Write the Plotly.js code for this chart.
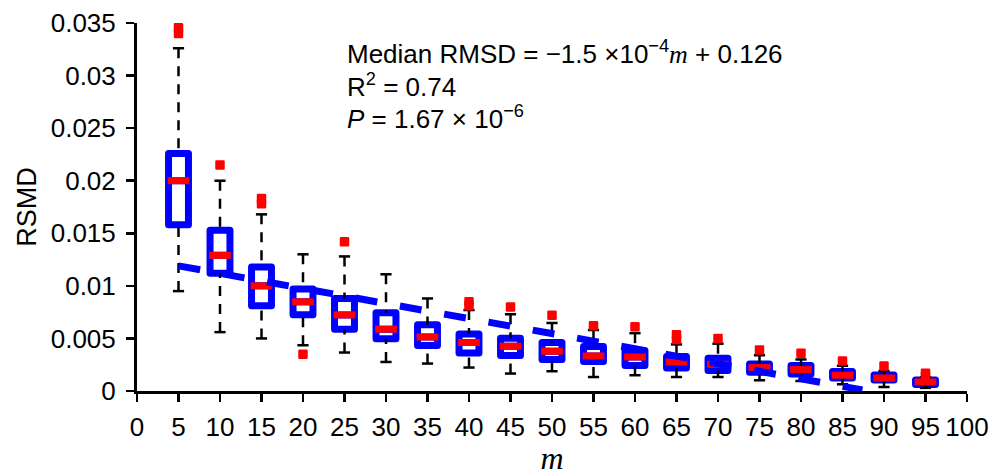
<!DOCTYPE html>
<html>
<head>
<meta charset="utf-8">
<script src="https://cdn.plot.ly/plotly-3.0.1.min.js"></script>
<style>
  html, body { margin: 0; padding: 0; background: #fff; }
  #chart { width: 992px; height: 476px; }
  .boxlayer path { stroke-linejoin: round; }
  .scatterlayer .points path { stroke-linejoin: round; }
</style>
</head>
<body>
<div id="chart"></div>
<script>
// ---- data ----
var m        = [5, 10, 15, 20, 25, 30, 35, 40, 45, 50, 55, 60, 65, 70, 75, 80, 85, 90, 95];
var q1       = [0.0158, 0.0112, 0.0081, 0.00726, 0.00588, 0.00497, 0.00432, 0.00362, 0.00337, 0.0030, 0.0028, 0.00242, 0.00219, 0.00194, 0.00178, 0.00162, 0.00124, 0.00105, 0.00061];
var medians  = [0.0200, 0.0129, 0.0100, 0.00848, 0.00724, 0.00588, 0.00514, 0.00461, 0.00426, 0.00378, 0.00333, 0.00324, 0.00276, 0.00254, 0.00223, 0.00204, 0.0015, 0.00124, 0.00086];
var q3       = [0.0226, 0.0153, 0.0118, 0.0097, 0.0088, 0.00745, 0.00629, 0.00543, 0.00502, 0.00461, 0.00423, 0.00385, 0.00328, 0.00311, 0.00257, 0.00242, 0.00185, 0.00152, 0.00105];
var lowerWhisker = [0.0095, 0.0056, 0.0050, 0.00435, 0.00366, 0.00276, 0.00261, 0.00223, 0.00166, 0.00188, 0.00133, 0.0015, 0.00133, 0.00133, 0.00102, 0.00095, 0.00064, 0.00038, 0.0003];
var upperWhisker = [0.0326, 0.0200, 0.0168, 0.0130, 0.0128, 0.0111, 0.0088, 0.0077, 0.0073, 0.00647, 0.0058, 0.0055, 0.00443, 0.0045, 0.0034, 0.0030, 0.0024, 0.0019, 0.0013];
var outlierM    = [5, 5, 10, 15, 15, 20, 25, 40, 40, 45, 50, 55, 60, 65, 65, 70, 75, 80, 85, 90, 95, 95];
var outlierRMSD = [0.03455, 0.0340, 0.0215, 0.0183, 0.0178, 0.0035, 0.0142, 0.0085, 0.0081, 0.0080, 0.0072, 0.0062, 0.0061, 0.00535, 0.0049, 0.0050, 0.0039, 0.0036, 0.00285, 0.00237, 0.0017, 0.00145];
var fitM    = [5, 87.4];
var fitRMSD = [0.0119, 0.0001];
var xTickVals = [0, 5, 10, 15, 20, 25, 30, 35, 40, 45, 50, 55, 60, 65, 70, 75, 80, 85, 90, 95, 100];
var yTickVals = [0, 0.005, 0.01, 0.015, 0.02, 0.025, 0.03, 0.035];
var yTickText = ['0', '0.005', '0.01', '0.015', '0.02', '0.025', '0.03', '0.035'];
var statLines = [
  'Median RMSD = \u22121.5 \u00d710<sup>\u22124</sup><span style="font-family:\'Liberation Serif\'"><i>m</i></span> + 0.126',
  'R<sup>2</sup> = 0.74',
  '<i>P</i> = 1.67 \u00d7 10<sup>\u22126</sup>'
];

// ---- derived traces ----
var wx = [], wy = [];
for (var i = 0; i < m.length; i++) {
  wx.push(m[i], m[i], null, m[i], m[i], null);
  wy.push(upperWhisker[i], q3[i], null, lowerWhisker[i], q1[i], null);
}

var FONT = '"Liberation Sans", Arial, sans-serif';

var traces = [
  {
    type: 'box', x: m, q1: q1, median: medians, q3: q3,
    lowerfence: q1, upperfence: q3,
    width: 2.4, boxpoints: false,
    line: { color: '#0000ff', width: 7 },
    fillcolor: '#ffffff', whiskerwidth: 0,
    hoverinfo: 'skip', showlegend: false
  },
  {
    type: 'scatter', mode: 'lines', x: wx, y: wy,
    line: { color: '#000000', width: 2.5, dash: '10px,8px' },
    hoverinfo: 'skip', showlegend: false, connectgaps: false
  },
  {
    type: 'scatter', mode: 'markers',
    x: m.concat(m), y: upperWhisker.concat(lowerWhisker),
    marker: { symbol: 'line-ew-open', size: 8, color: '#000000', line: { color: '#000000', width: 2.5 } },
    hoverinfo: 'skip', showlegend: false
  },
  {
    type: 'scatter', mode: 'markers', x: m, y: medians,
    marker: { symbol: 'line-ew-open', size: 15.5, color: '#ff0000', line: { color: '#ff0000', width: 7 } },
    hoverinfo: 'skip', showlegend: false
  },
  {
    type: 'scatter', mode: 'markers', x: outlierM, y: outlierRMSD,
    marker: { symbol: 'square', size: 7, color: '#ff0000', line: { color: '#ff0000', width: 2.5 } },
    hoverinfo: 'skip', showlegend: false
  },
  {
    type: 'scatter', mode: 'lines', x: fitM, y: fitRMSD,
    line: { color: '#0000ff', width: 7, dash: '22px,23px' },
    hoverinfo: 'skip', showlegend: false
  }
];

var annY = [0.921, 0.830, 0.742];
var annotations = statLines.map(function (t, k) {
  return {
    text: t, xref: 'paper', yref: 'paper', x: 0.2506, y: annY[k],
    xanchor: 'left', yanchor: 'middle', showarrow: false, align: 'left',
    font: { family: FONT, size: 26, color: '#000' }
  };
});

var layout = {
  width: 992, height: 476,
  margin: { l: 137, r: 25, t: 23, b: 85 },
  paper_bgcolor: '#ffffff', plot_bgcolor: '#ffffff',
  showlegend: false,
  font: { family: FONT, size: 26, color: '#000' },
  xaxis: {
    range: [0, 100], tickmode: 'array', tickvals: xTickVals,
    showgrid: false, zeroline: false,
    showline: true, linecolor: '#000', linewidth: 3,
    ticks: 'outside', ticklen: 8, tickwidth: 2.5, tickcolor: '#000',
    ticklabelstandoff: 3,
    tickfont: { family: FONT, size: 26, color: '#000' },
    title: { text: '<i>m</i>', font: { family: '"Liberation Serif", "Times New Roman", serif', size: 32, color: '#000' }, standoff: 10 }
  },
  yaxis: {
    range: [0, 0.035], tickmode: 'array', tickvals: yTickVals, ticktext: yTickText,
    showgrid: false, zeroline: false,
    showline: true, linecolor: '#000', linewidth: 3,
    ticks: 'outside', ticklen: 8, tickwidth: 2.5, tickcolor: '#000',
    ticklabelstandoff: 5,
    tickfont: { family: FONT, size: 26, color: '#000' },
    title: { text: 'RSMD', font: { family: FONT, size: 27, color: '#000' }, standoff: 7 }
  },
  annotations: annotations
};

Plotly.newPlot('chart', traces, layout, { staticPlot: true, displayModeBar: false });
</script>
</body>
</html>
